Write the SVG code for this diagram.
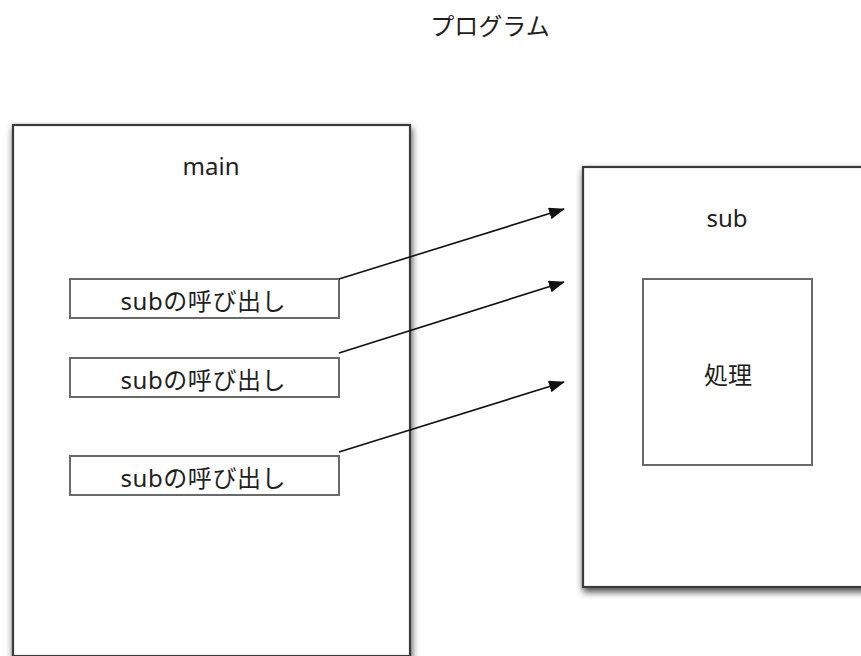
<svg xmlns="http://www.w3.org/2000/svg" width="861" height="656" viewBox="0 0 861 656">
  <style>
    .box { fill: #ffffff; stroke: #3a3a3a; stroke-width: 2.2; }
    .inner { fill: #ffffff; stroke: #6a6a6a; stroke-width: 2; }
    .t { font-family: "Noto Sans", "Noto Sans CJK JP", sans-serif; font-size: 24px; fill: #1e1e1e; text-anchor: middle; }
    .conn { stroke: #111111; stroke-width: 1.6; fill: none; marker-end: url(#arrow); }
  </style>
  <defs>
    <filter id="shadow" x="-10%" y="-10%" width="130%" height="130%">
      <feDropShadow dx="1" dy="4" stdDeviation="3.5" flood-color="#000000" flood-opacity="0.7"/>
    </filter>
    <marker id="arrow" viewBox="0 0 16 12" refX="15" refY="6" markerWidth="16" markerHeight="12" markerUnits="userSpaceOnUse" orient="auto">
      <path d="M0,0 L16,6 L0,12 z" fill="#111111"/>
    </marker>
  </defs>
  <rect width="861" height="656" fill="#ffffff"/>

  <g id="title">
    <text class="t" x="490" y="35">プログラム</text>
  </g>

  <g id="main">
    <rect class="box" x="13" y="125" width="397" height="531" filter="url(#shadow)"/>
    <text class="t" x="211" y="175">main</text>
  </g>

  <g id="call1">
    <rect class="inner" x="70" y="279" width="269" height="39"/>
    <text class="t" x="203" y="310" textLength="165" lengthAdjust="spacing">subの呼び出し</text>
  </g>
  <g id="call2">
    <rect class="inner" x="70" y="358" width="269" height="39"/>
    <text class="t" x="203" y="389" textLength="165" lengthAdjust="spacing">subの呼び出し</text>
  </g>
  <g id="call3">
    <rect class="inner" x="70" y="456" width="269" height="39"/>
    <text class="t" x="203" y="487" textLength="165" lengthAdjust="spacing">subの呼び出し</text>
  </g>

  <g id="sub">
    <rect class="box" x="583" y="167" width="290" height="420" filter="url(#shadow)"/>
    <text class="t" x="727" y="227">sub</text>
  </g>

  <g id="process">
    <rect class="inner" x="643" y="279" width="169" height="186"/>
    <text class="t" x="728" y="384">処理</text>
  </g>

  <g id="connectors">
    <line class="conn" x1="339" y1="279" x2="564" y2="209"/>
    <line class="conn" x1="339" y1="353" x2="564" y2="282"/>
    <line class="conn" x1="339" y1="452" x2="564" y2="382"/>
  </g>
</svg>
